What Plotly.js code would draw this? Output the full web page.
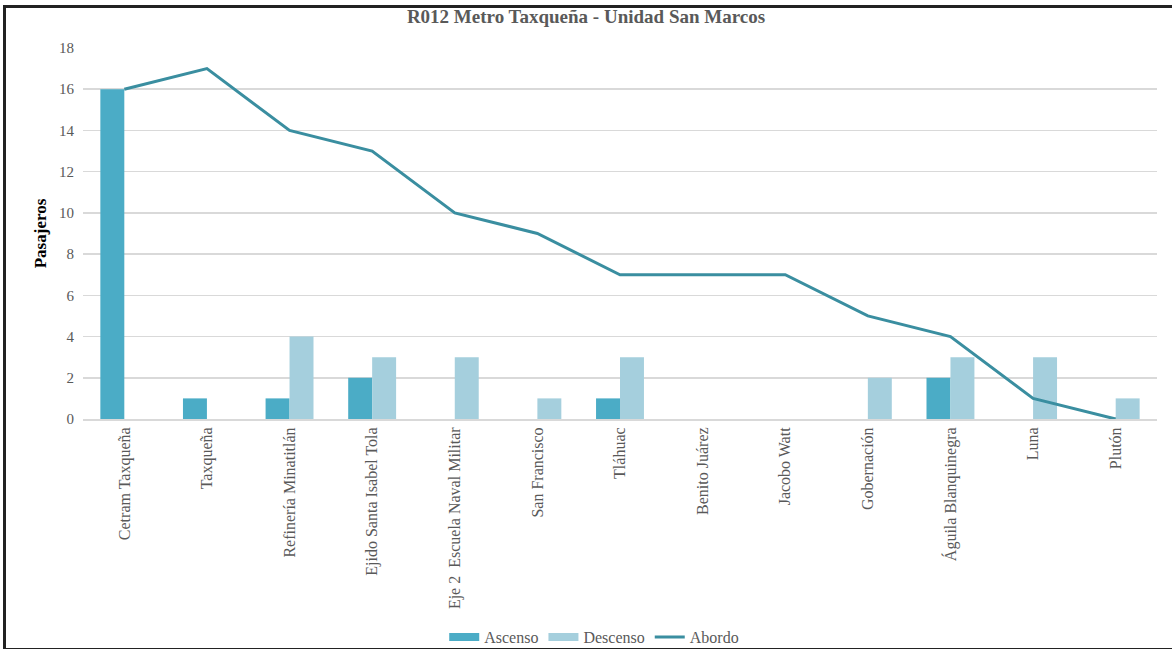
<!DOCTYPE html>
<html>
<head>
<meta charset="utf-8">
<script src="https://cdn.plot.ly/plotly-3.0.1.min.js"></script>
<style>
html,body{margin:0;padding:0;background:#fff;}
#chart{width:1172px;height:649px;}
#frame{position:absolute;left:3px;top:5px;width:1175px;height:640px;border:3px solid #222;pointer-events:none;}
</style>
</head>
<body>
<div id="chart"></div>
<div id="frame"></div>
<script>
const categories = ["Cetram Taxqueña","Taxqueña","Refinería Minatitlán","Ejido Santa Isabel Tola","Eje 2  Escuela Naval Militar","San Francisco","Tláhuac","Benito Juárez","Jacobo Watt","Gobernación","Águila Blanquinegra","Luna","Plutón"];
const ascenso = [16,1,1,2,0,0,1,0,0,0,2,0,0];
const descenso = [0,0,4,3,3,1,3,0,0,2,3,3,1];
const abordo = [16,17,14,13,10,9,7,7,7,5,4,1,0];
const yTicks = [0,2,4,6,8,10,12,14,16,18];

const font = "Liberation Serif, Times New Roman, serif";
const cAsc = "#4bacc6", cDes = "#a5cfdd", cAbo = "#3a8ea0";
const traces = [
  {type:"bar", name:"Ascenso", x:categories, y:ascenso, marker:{color:cAsc}, showlegend:false},
  {type:"bar", name:"Descenso", x:categories, y:descenso, marker:{color:cDes}, showlegend:false},
  {type:"scatter", mode:"lines", name:"Abordo", x:categories, y:abordo, line:{color:cAbo, width:3}, showlegend:false},
  // legend entries (wide swatches like the original)
  {type:"scatter", mode:"lines", name:"Ascenso", x:[categories[0]], y:[null], line:{color:cAsc, width:8}, hoverinfo:"skip"},
  {type:"scatter", mode:"lines", name:"Descenso", x:[categories[0]], y:[null], line:{color:cDes, width:8}, hoverinfo:"skip"},
  {type:"scatter", mode:"lines", name:"Abordo", x:[categories[0]], y:[null], line:{color:cAbo, width:3}, hoverinfo:"skip"}
];
const layout = {
  width:1172, height:649,
  margin:{l:83, r:15, t:48, b:230, autoexpand:false},
  paper_bgcolor:"#fff", plot_bgcolor:"#fff",
  font:{family:font, color:"#595959", size:15},
  title:{text:"<b>R012 Metro Taxqueña - Unidad San Marcos</b>", font:{family:font, size:19, color:"#595959"}, x:0.5, xanchor:"center", xref:"container", yref:"container", y:0.985, yanchor:"top"},
  barmode:"group", bargap:0.42, bargroupgap:0,
  xaxis:{type:"category", tickangle:-90, tickfont:{family:font, size:16, color:"#595959"}, showgrid:false, showline:true, linecolor:"#d9d9d9", linewidth:2, ticks:"", automargin:false},
  yaxis:{range:[0,18], tickvals:yTicks, showgrid:true, gridcolor:"#d9d9d9", gridwidth:1.5, zeroline:false, showline:false, ticks:"", ticklen:0, ticklabelstandoff:8, tickfont:{family:font, size:15, color:"#595959"},
    title:{text:"<b>Pasajeros</b>", font:{family:font, size:17, color:"#000"}, standoff:8}, automargin:false},
  legend:{orientation:"h", x:0.476, xanchor:"center", y:-0.588, yanchor:"middle", font:{family:font, size:16, color:"#595959"}, traceorder:"normal", itemwidth:30, tracegroupgap:0},
  showlegend:true
};
Plotly.newPlot("chart", traces, layout, {displayModeBar:false, staticPlot:true});
</script>
</body>
</html>
